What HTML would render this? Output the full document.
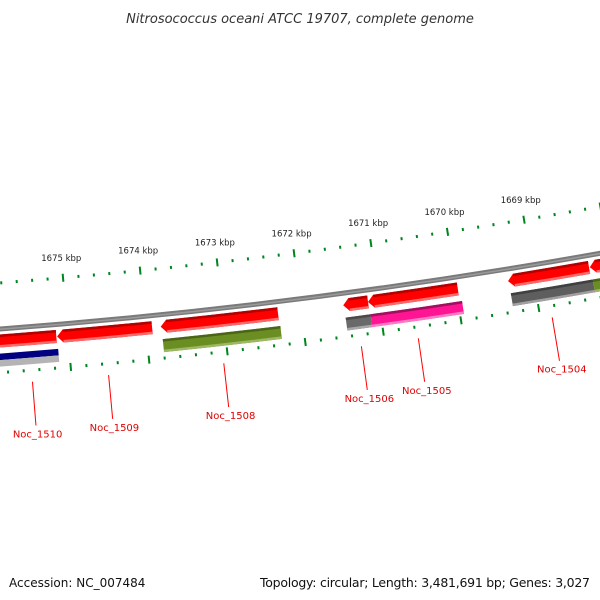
<!DOCTYPE html>
<html><head><meta charset="utf-8"><style>
html,body{margin:0;padding:0;background:#fff;}
svg{display:block;font-family:"DejaVu Sans","Liberation Sans",sans-serif;}
</style></head><body>
<svg id="map" width="600" height="600" viewBox="0 0 600 600" xmlns="http://www.w3.org/2000/svg">
<rect width="600" height="600" fill="#fff"/>
<text x="300" y="23" text-anchor="middle" font-size="13" font-style="italic" fill="#333">Nitrosococcus oceani ATCC 19707, complete genome</text>
<text x="9" y="587" font-size="12" fill="#111">Accession: NC_007484</text>
<text x="590" y="587" font-size="12.5" fill="#111" text-anchor="end" textLength="330">Topology: circular; Length: 3,481,691 bp; Genes: 3,027</text>
<g id="layer"></g>
</svg>
<script>
// data (kbp)
const redGeneStarts = [1676.2, 1675.14, 1673.81, 1671.46, 1671.14, 1669.33, 1668.27];
const redGeneEnds   = [1675.15, 1673.92, 1672.30, 1671.14, 1669.98, 1668.28, 1667.3];
const ring2Starts = [1676.2, 1673.80, 1671.45, 1671.13, 1669.32, 1668.26];
const ring2Ends   = [1675.14, 1672.29, 1671.13, 1669.95, 1668.26, 1667.3];
const ring2Colors = ["blue", "olive", "gray", "pink", "darkgray", "olive"];
const geneLabels = ["Noc_1510", "Noc_1509", "Noc_1508", "Noc_1506", "Noc_1505", "Noc_1504"];
const geneLabelPos = [1675.50, 1674.53, 1673.06, 1671.30, 1670.57, 1668.85];
const majorTicks = [1669, 1670, 1671, 1672, 1673, 1674, 1675];
const tickLabels = ["1669 kbp","1670 kbp","1671 kbp","1672 kbp","1673 kbp","1674 kbp","1675 kbp"];

const CX = -450, CY = -5654.1;
const TH0 = 0.08627, K = 0.01301, BP0 = 1675;
function ang(bp){ return TH0 - (bp - BP0) * K; }
function pt(bp, r){ const t = ang(bp); return [CX + r*Math.sin(t), CY + r*Math.cos(t)]; }
const NS = "http://www.w3.org/2000/svg";
const layer = document.getElementById('layer');
function mk(tag, attrs){ const e = document.createElementNS(NS, tag); for (const k in attrs) e.setAttribute(k, attrs[k]); layer.appendChild(e); return e; }
function f(p){ return p[0].toFixed(2)+","+p[1].toFixed(2); }
function band(b1, b2, r1, r2){
  return "M"+f(pt(b1,r1))+" A"+r1+","+r1+" 0 0 0 "+f(pt(b2,r1))+" L"+f(pt(b2,r2))+" A"+r2+","+r2+" 0 0 1 "+f(pt(b1,r2))+" Z";
}
function arrow(b1, b2, r1, r2){
  const tip = 6/6012/K;
  const bs = b1 - tip;
  return "M"+f(pt(b1,(r1+r2)/2))+" L"+f(pt(bs,r1))+" A"+r1+","+r1+" 0 0 0 "+f(pt(b2,r1))+" L"+f(pt(b2,r2))+" A"+r2+","+r2+" 0 0 1 "+f(pt(bs,r2))+" Z";
}

let e;
e = mk('path', {d: band(1677.5, 1666.5, 5997.5, 6002.5), fill: '#7a7a7a'});


e = mk('path', {d: band(1677.5, 1666.5, 5999.5, 6001), fill: '#9a9a9a'});



for (let i = 0; i <= 55; i++){
  const bp = 1666.6 + i*0.2;
  const major = Math.abs(bp - Math.round(bp)) < 0.01;
  const rings = [[5954, major?4:1.5],[6043.5, major?4:1.5]];
  rings.forEach((rg, j) => {
    const a = pt(bp, rg[0]-rg[1]), b = pt(bp, rg[0]+rg[1]);
    e = mk('line', {x1:a[0], y1:a[1], x2:b[0], y2:b[1], stroke:'#00851e', 'stroke-width': 2});
    
    
  });
}
majorTicks.forEach((bp, i) => {
  const p = pt(bp, 5934);
  e = mk('text', {x:p[0], y:p[1]+3, 'text-anchor':'middle', 'font-size':8.5, fill:'#222'});
  e.textContent = tickLabels[i];
  
  
});

redGeneStarts.forEach((s, i) => {
  const en = redGeneEnds[i];
  e = mk('path', {d: arrow(s, en, 6005.5, 6018.5), fill:'#ff0000'});
  
  
  const tip = 6/6012/K;
  e = mk('path', {d: band(s - tip, en, 6005.5, 6008), fill:'#b30000'});
  
  
  e = mk('path', {d: band(s - tip, en, 6016, 6018.5), fill:'#ff6a6a'});
  
  
});

const pal = {
  blue: ['#000080','#00005a','#c8c8c8'],
  olive: ['#6b8e23','#4b6518','#9cb864'],
  gray: ['#6a6a6a','#4a4a4a','#a8a8a8'],
  darkgray: ['#5e5e5e','#404040','#a0a0a0'],
  pink: ['#ff1493','#a0105e','#ff7cc4']
};
ring2Starts.forEach((s, i) => {
  const en = ring2Ends[i], c = pal[ring2Colors[i]];
  if (ring2Colors[i] === 'blue'){
    e = mk('path', {d: band(s, en, 6024.5, 6031), fill:'#000080'});
    
    
    e = mk('path', {d: band(s, en, 6031, 6037.5), fill:'#b4b4b4'});
    
    
    return;
  }
  e = mk('path', {d: band(s, en, 6024.5, 6037.5), fill:c[0]});
  
  
  e = mk('path', {d: band(s, en, 6024.5, 6027), fill:c[1]});
  
  
  e = mk('path', {d: band(s, en, 6035, 6037.5), fill:c[2]});
  
  
});

geneLabels.forEach((lab, i) => {
  const bp = geneLabelPos[i];
  const a = pt(bp, 6055), b = pt(bp, 6099);
  e = mk('line', {x1:a[0], y1:a[1], x2:b[0], y2:b[1], stroke:'#ff0000', 'stroke-width':1});
  
  
  const p = pt(bp, 6107);
  e = mk('text', {x:p[0]+1, y:p[1]+4, 'text-anchor':'middle', 'font-size':10, fill:'#e00000'});
  e.textContent = lab;
  
  
});
</script>
</body></html>
